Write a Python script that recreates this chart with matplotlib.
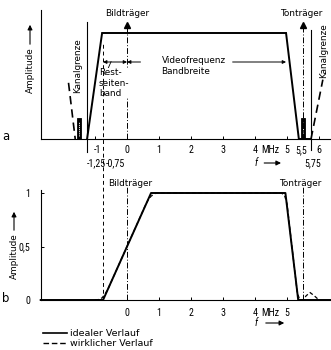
import matplotlib
matplotlib.use("Agg")
import matplotlib.pyplot as plt
from matplotlib import transforms
from matplotlib.lines import Line2D
from matplotlib.patches import FancyArrowPatch

plt.rcParams['font.family'] = ['DejaVu Sans']
NUMF = ['Roboto Condensed', 'DejaVu Sans']

# ---------------- data ----------------
# panel a: ideal channel response (normalised amplitude)
a_ideal_f = [-1.25, -0.78, 4.97, 5.37, 5.75]
a_ideal_amp = [0.0, 1.0, 1.0, 0.0, 0.0]
# neighbouring channels (dashed slopes)
a_left_neighbor_f = [-1.83, -1.62]
a_left_neighbor_amp = [0.53, 0.0]
a_right_neighbor_f = [5.75, 6.12]
a_right_neighbor_amp = [0.0, 0.56]
# sound carriers (small blocks): centre, width, height
carrier_blocks = [(-1.5, 0.12, 0.2), (5.5, 0.1, 0.2)]
a_tick_vals = [-1, 0, 1, 2, 3, 4, 5, 5.5, 6]
a_tick_labels = ['-1', '0', '1', '2', '3', '4', '5', '5,5', '6']

# panel b
b_ideal_f = [-2.7, -0.75, 0.75, 4.95, 5.35, 6.35]
b_ideal_amp = [0.0, 0.0, 1.0, 1.0, 0.0, 0.0]
b_real_f = [-1.0, -0.88, -0.78, -0.68, -0.6, 0.55, 0.65, 0.75, 0.9, 4.82,
            4.92, 5.0, 5.25, 5.32, 5.4, 5.5, 5.6, 5.72, 5.85, 6.0]
b_real_amp = [0.0, 0.005, 0.02, 0.06, 0.1, 0.87, 0.93, 0.97, 1.0, 1.0,
              0.98, 0.9, 0.25, 0.07, 0.0, 0.0, 0.04, 0.07, 0.04, 0.0]
b_tick_vals = [0, 1, 2, 3, 4, 5]
b_tick_labels = ['0', '1', '2', '3', '4', '5']
b_ytick_vals = [0, 0.5, 1]
b_ytick_labels = ['0', '0,5', '1']

# ---------------- figure ----------------
W, H = 331, 350
fig = plt.figure(figsize=(W / 100, H / 100), dpi=100)
FS = 6.4     # words
NS = 7.2     # numbers
XL = (-2.69, 6.375)

def fy(py):
    return 1 - py / H

ax1 = fig.add_axes([41 / W, fy(139), 290 / W, 129 / H])
ax2 = fig.add_axes([41 / W, fy(300), 290 / W, 110 / H])
for ax in (ax1, ax2):
    ax.set_xlim(*XL)
    ax.spines['top'].set_visible(False)
    ax.spines['right'].set_visible(False)
    ax.spines['left'].set_linewidth(0.8)
    ax.spines['bottom'].set_linewidth(0.8)
    ax.patch.set_alpha(0)
ax1.set_ylim(0, 129 / 106)
ax2.set_ylim(0, 110 / 107)

t1 = transforms.blended_transform_factory(ax1.transData, fig.transFigure)
t2 = transforms.blended_transform_factory(ax2.transData, fig.transFigure)

# ---- panel a ----
ax1.set_yticks([])
ax1.set_xticks(a_tick_vals)
ax1.set_xticklabels([])
ax1.tick_params(axis='x', direction='in', length=2, width=0.7)
ax1.plot(a_ideal_f, a_ideal_amp, color='black', lw=1.4, solid_joinstyle='miter', clip_on=False)
ax1.plot(a_left_neighbor_f, a_left_neighbor_amp, color='black', lw=1.2, ls=(0, (5, 3)), clip_on=False)
ax1.plot(a_right_neighbor_f, a_right_neighbor_amp, color='black', lw=1.2, ls=(0, (5, 3)), clip_on=False)
for c, w, h in carrier_blocks:
    ax1.bar(c, h, width=w, color='black', edgecolor='black', lw=0.6)
    ax1.plot([c, c], [0.03, h - 0.04], color='white', lw=0.6, ls=(0, (1.5, 1)))

# channel limits
ax1.plot([-1.25, -1.25], [-0.123, 1.104], color='black', lw=0.8, clip_on=False)
ax1.plot([5.75, 5.75], [-0.10, 1.03], color='black', lw=0.8, clip_on=False)
# carriers
for xc in (0, 5.5):
    ax1.plot([xc, xc], [0, 1.08], color='black', lw=0.7, ls=(0, (6, 2, 1, 2)), clip_on=False)
    ax1.plot([xc], [1.08], marker='^', ms=4, color='black', clip_on=False)

# tick labels row 1
lab_x = {-1: -0.93, 5.5: 5.43}
for v, s in zip(a_tick_vals, a_tick_labels):
    ax1.text(lab_x.get(v, v), fy(150), s, transform=t1, ha='center', va='center', fontsize=NS, family=NUMF)
ax1.text(4.2, fy(150), 'MHz', transform=t1, ha='left', va='center', fontsize=NS, family=NUMF)
ax1.text(-1.25, fy(163), '-1,25', transform=t1, ha='left', va='center', fontsize=NS, family=NUMF)
ax1.text(-0.66, fy(163), '-0,75', transform=t1, ha='left', va='center', fontsize=NS, family=NUMF,
         bbox=dict(facecolor='white', edgecolor='none', pad=0.2), zorder=5)
ax1.text(5.8, fy(163), '5,75', transform=t1, ha='center', va='center', fontsize=NS, family=NUMF)
ax1.text(4.03, fy(163), 'f', transform=t1, ha='center', va='center', fontsize=NS, style='italic', family=NUMF)
ax1.annotate('', xy=(4.9, fy(163)), xytext=(4.2, fy(163)), xycoords=t1, textcoords=t1,
             arrowprops=dict(arrowstyle='-|>', lw=0.8, color='black', mutation_scale=7))

ax1.text(0, fy(14), 'Bildträger', transform=t1, ha='center', va='center', fontsize=FS)
ax1.text(5.45, fy(13), 'Tonträger', transform=t1, ha='center', va='center', fontsize=FS)
ax1.text(-1.53, fy(66), 'Kanalgrenze', transform=t1, ha='center', va='center', fontsize=FS, rotation=90)
ax1.text(6.13, fy(51), 'Kanalgrenze', transform=t1, ha='center', va='center', fontsize=FS, rotation=90)

# dimension arrows
yd = (139 - 62) / 106
ax1.annotate('', xy=(-0.75, yd), xytext=(0, yd),
             arrowprops=dict(arrowstyle='<|-|>', lw=0.7, color='black', mutation_scale=5, shrinkA=0, shrinkB=0))
ax1.annotate('', xy=(0, yd), xytext=(0.42, yd),
             arrowprops=dict(arrowstyle='-|>', lw=0.7, color='black', mutation_scale=5, shrinkA=0, shrinkB=0))
ax1.annotate('', xy=(4.97, yd), xytext=(3.3, yd),
             arrowprops=dict(arrowstyle='-|>', lw=0.7, color='black', mutation_scale=5, shrinkA=0, shrinkB=0))
ax1.plot([-0.6, -0.5], [0.66, 0.73], color='black', lw=0.6)
ax1.text(-0.88, fy(83), 'Rest-\nseiten-\nband', transform=t1, ha='left', va='center', fontsize=FS,
         linespacing=1.2, bbox=dict(facecolor='white', edgecolor='none', pad=0.3), zorder=5)
ax1.text(1.08, fy(66), 'Videofrequenz\nBandbreite', transform=t1, ha='left', va='center', fontsize=FS,
         linespacing=1.2)

# amplitude label a
fig.text(30 / W, fy(70), 'Amplitude', rotation=90, ha='center', va='center', fontsize=FS)
fig.add_artist(FancyArrowPatch((30 / W, fy(47)), (30 / W, fy(22)),
               transform=fig.transFigure, arrowstyle='-|>', mutation_scale=7, lw=0.8, color='black'))
fig.text(6 / W, fy(137), 'a', ha='center', va='center', fontsize=FS + 2)

# ---- panel b ----
ax2.set_xticks(b_tick_vals)
ax2.set_xticklabels([])
ax2.set_yticks(b_ytick_vals)
ax2.set_yticklabels(b_ytick_labels, fontsize=NS, family=NUMF)
ax2.tick_params(axis='both', direction='in', length=2, width=0.7, pad=8)
ax2.plot(b_ideal_f, b_ideal_amp, color='black', lw=1.4, clip_on=False)
ax2.plot(b_real_f, b_real_amp, color='black', lw=0.9, ls=(0, (3, 2)), clip_on=False)
for xc in (0, 5.5):
    ax2.plot([xc, xc], [0, 1.07], color='black', lw=0.7, ls=(0, (6, 2, 1, 2)), clip_on=False)
# long dashed line through both panels at -0.75
ax2.plot([-0.75, -0.75], [0, (300 - 43) / 107], color='black', lw=0.7, ls=(0, (4, 3)), clip_on=False, zorder=1)

for v, s in zip(b_tick_vals, b_tick_labels):
    ax2.text(v, fy(313), s, transform=t2, ha='center', va='center', fontsize=NS, family=NUMF)
ax2.text(4.2, fy(313), 'MHz', transform=t2, ha='left', va='center', fontsize=NS, family=NUMF)
ax2.text(4.03, fy(323), 'f', transform=t2, ha='center', va='center', fontsize=NS, style='italic', family=NUMF)
ax2.annotate('', xy=(5.0, fy(323)), xytext=(4.25, fy(323)), xycoords=t2, textcoords=t2,
             arrowprops=dict(arrowstyle='-|>', lw=0.8, color='black', mutation_scale=7))
ax2.text(-0.6, fy(184), 'Bildträger', transform=t2, ha='left', va='center', fontsize=FS)
ax2.text(5.4, fy(183), 'Tonträger', transform=t2, ha='center', va='center', fontsize=FS)

fig.text(14 / W, fy(256), 'Amplitude', rotation=90, ha='center', va='center', fontsize=FS)
fig.add_artist(FancyArrowPatch((14 / W, fy(233)), (14 / W, fy(209)),
               transform=fig.transFigure, arrowstyle='-|>', mutation_scale=7, lw=0.8, color='black'))
fig.text(6 / W, fy(298), 'b', ha='center', va='center', fontsize=FS + 2)

# legend
fig.add_artist(Line2D([43 / W, 67 / W], [fy(333), fy(333)], color='black', lw=1.2))
fig.add_artist(Line2D([43 / W, 67 / W], [fy(343), fy(343)], color='black', lw=1.0, ls=(0, (4, 2))))
fig.text(70 / W, fy(333), 'idealer Verlauf', ha='left', va='center', fontsize=FS + 0.4)
fig.text(70 / W, fy(343), 'wirklicher Verlauf', ha='left', va='center', fontsize=FS + 0.4)

fig.savefig('out.png', dpi=100)
